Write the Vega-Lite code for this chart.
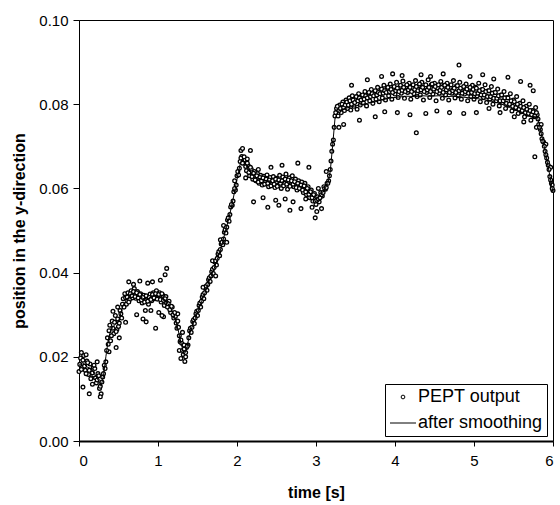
{
  "$schema": "https://vega.github.io/schema/vega-lite/v6.json",
  "width": 474,
  "height": 421,
  "autosize": {"type": "none"},
  "padding": {"left": 79, "top": 20, "right": 7, "bottom": 64},
  "background": "white",
  "config": {
    "view": {"stroke": "black", "strokeWidth": 1},
    "axis": {
      "grid": false,
      "domainColor": "black",
      "tickColor": "black",
      "labelColor": "black",
      "titleColor": "black",
      "labelFont": "Liberation Sans",
      "titleFont": "Liberation Sans",
      "labelFontSize": 15,
      "titleFontSize": 16,
      "titleFontWeight": "bold",
      "tickSize": 5
    },
    "legend": {
      "title": null,
      "orient": "none",
      "legendX": 306,
      "legendY": 364,
      "strokeColor": "black",
      "fillColor": "white",
      "padding": 4,
      "rowPadding": 8,
      "symbolSize": 676,
      "symbolOffset": 5,
      "labelOffset": 6,
      "labelFont": "Liberation Sans",
      "labelFontSize": 18,
      "labelColor": "black"
    }
  },
  "datasets": {
    "pept": [
      {"t":0.00,"y":0.0165},{"t":0.02,"y":0.0197},{"t":0.04,"y":0.0175},{"t":0.06,"y":0.0203},{"t":0.08,"y":0.0168},{"t":0.10,"y":0.0190},{"t":0.12,"y":0.0158},{"t":0.14,"y":0.0183},{"t":0.16,"y":0.0150},{"t":0.18,"y":0.0175},
      {"t":0.20,"y":0.0172},{"t":0.22,"y":0.0138},{"t":0.24,"y":0.0160},{"t":0.26,"y":0.0125},{"t":0.28,"y":0.0112},{"t":0.30,"y":0.0152},{"t":0.32,"y":0.0180},{"t":0.34,"y":0.0188},{"t":0.36,"y":0.0245},{"t":0.38,"y":0.0262},
      {"t":0.40,"y":0.0238},{"t":0.42,"y":0.0285},{"t":0.44,"y":0.0255},{"t":0.46,"y":0.0298},{"t":0.48,"y":0.0265},{"t":0.50,"y":0.0272},{"t":0.52,"y":0.0310},{"t":0.54,"y":0.0292},{"t":0.56,"y":0.0338},{"t":0.58,"y":0.0350},
      {"t":0.60,"y":0.0325},{"t":0.62,"y":0.0352},{"t":0.64,"y":0.0336},{"t":0.66,"y":0.0357},{"t":0.68,"y":0.0340},{"t":0.70,"y":0.0362},{"t":0.72,"y":0.0339},{"t":0.74,"y":0.0355},{"t":0.76,"y":0.0333},{"t":0.78,"y":0.0350},
      {"t":0.80,"y":0.0328},{"t":0.82,"y":0.0346},{"t":0.84,"y":0.0310},{"t":0.86,"y":0.0342},{"t":0.88,"y":0.0325},{"t":0.90,"y":0.0349},{"t":0.92,"y":0.0333},{"t":0.94,"y":0.0352},{"t":0.96,"y":0.0338},{"t":0.98,"y":0.0357},
      {"t":1.00,"y":0.0340},{"t":1.02,"y":0.0352},{"t":1.04,"y":0.0330},{"t":1.06,"y":0.0346},{"t":1.08,"y":0.0322},{"t":1.10,"y":0.0343},{"t":1.12,"y":0.0318},{"t":1.14,"y":0.0332},{"t":1.16,"y":0.0305},{"t":1.18,"y":0.0318},
      {"t":1.20,"y":0.0292},{"t":1.22,"y":0.0296},{"t":1.24,"y":0.0268},{"t":1.26,"y":0.0270},{"t":1.28,"y":0.0236},{"t":1.30,"y":0.0232},{"t":1.32,"y":0.0205},{"t":1.34,"y":0.0189},{"t":1.36,"y":0.0222},{"t":1.38,"y":0.0228},
      {"t":1.40,"y":0.0262},{"t":1.42,"y":0.0258},{"t":1.44,"y":0.0284},{"t":1.46,"y":0.0279},{"t":1.48,"y":0.0302},{"t":1.50,"y":0.0298},{"t":1.52,"y":0.0322},{"t":1.54,"y":0.0318},{"t":1.56,"y":0.0342},{"t":1.58,"y":0.0338},
      {"t":1.60,"y":0.0363},{"t":1.62,"y":0.0358},{"t":1.64,"y":0.0383},{"t":1.66,"y":0.0379},{"t":1.68,"y":0.0402},{"t":1.70,"y":0.0398},{"t":1.72,"y":0.0425},{"t":1.74,"y":0.0418},{"t":1.76,"y":0.0444},{"t":1.78,"y":0.0440},
      {"t":1.80,"y":0.0468},{"t":1.82,"y":0.0466},{"t":1.84,"y":0.0496},{"t":1.86,"y":0.0494},{"t":1.88,"y":0.0525},{"t":1.90,"y":0.0522},{"t":1.92,"y":0.0556},{"t":1.94,"y":0.0560},{"t":1.96,"y":0.0592},{"t":1.98,"y":0.0596},
      {"t":2.00,"y":0.0630},{"t":2.02,"y":0.0632},{"t":2.04,"y":0.0664},{"t":2.06,"y":0.0676},{"t":2.08,"y":0.0662},{"t":2.10,"y":0.0668},{"t":2.12,"y":0.0642},{"t":2.14,"y":0.0655},{"t":2.16,"y":0.0630},{"t":2.18,"y":0.0646},
      {"t":2.20,"y":0.0622},{"t":2.22,"y":0.0640},{"t":2.24,"y":0.0618},{"t":2.26,"y":0.0635},{"t":2.28,"y":0.0612},{"t":2.30,"y":0.0631},{"t":2.32,"y":0.0608},{"t":2.34,"y":0.0629},{"t":2.36,"y":0.0615},{"t":2.38,"y":0.0632},
      {"t":2.40,"y":0.0604},{"t":2.42,"y":0.0626},{"t":2.44,"y":0.0610},{"t":2.46,"y":0.0628},{"t":2.48,"y":0.0602},{"t":2.50,"y":0.0624},{"t":2.52,"y":0.0608},{"t":2.54,"y":0.0631},{"t":2.56,"y":0.0600},{"t":2.58,"y":0.0627},
      {"t":2.60,"y":0.0612},{"t":2.62,"y":0.0634},{"t":2.64,"y":0.0598},{"t":2.66,"y":0.0625},{"t":2.68,"y":0.0609},{"t":2.70,"y":0.0630},{"t":2.72,"y":0.0604},{"t":2.74,"y":0.0622},{"t":2.76,"y":0.0596},{"t":2.78,"y":0.0618},
      {"t":2.80,"y":0.0600},{"t":2.82,"y":0.0615},{"t":2.84,"y":0.0590},{"t":2.86,"y":0.0612},{"t":2.88,"y":0.0585},{"t":2.90,"y":0.0604},{"t":2.92,"y":0.0578},{"t":2.94,"y":0.0596},{"t":2.96,"y":0.0570},{"t":2.98,"y":0.0588},
      {"t":3.00,"y":0.0562},{"t":3.02,"y":0.0580},{"t":3.04,"y":0.0568},{"t":3.06,"y":0.0590},{"t":3.08,"y":0.0582},{"t":3.10,"y":0.0604},{"t":3.12,"y":0.0598},{"t":3.14,"y":0.0612},{"t":3.16,"y":0.0618},{"t":3.18,"y":0.0645},
      {"t":3.20,"y":0.0688},{"t":3.22,"y":0.0715},{"t":3.24,"y":0.0772},{"t":3.26,"y":0.0790},{"t":3.28,"y":0.0772},{"t":3.30,"y":0.0798},{"t":3.32,"y":0.0780},{"t":3.34,"y":0.0805},{"t":3.36,"y":0.0785},{"t":3.38,"y":0.0810},
      {"t":3.40,"y":0.0790},{"t":3.42,"y":0.0815},{"t":3.44,"y":0.0786},{"t":3.46,"y":0.0820},{"t":3.48,"y":0.0795},{"t":3.50,"y":0.0812},{"t":3.52,"y":0.0788},{"t":3.54,"y":0.0825},{"t":3.56,"y":0.0798},{"t":3.58,"y":0.0818},
      {"t":3.60,"y":0.0803},{"t":3.62,"y":0.0830},{"t":3.64,"y":0.0796},{"t":3.66,"y":0.0822},{"t":3.68,"y":0.0808},{"t":3.70,"y":0.0835},{"t":3.72,"y":0.0802},{"t":3.74,"y":0.0826},{"t":3.76,"y":0.0812},{"t":3.78,"y":0.0840},
      {"t":3.80,"y":0.0806},{"t":3.82,"y":0.0832},{"t":3.84,"y":0.0815},{"t":3.86,"y":0.0845},{"t":3.88,"y":0.0810},{"t":3.90,"y":0.0836},{"t":3.92,"y":0.0820},{"t":3.94,"y":0.0848},{"t":3.96,"y":0.0812},{"t":3.98,"y":0.0838},
      {"t":4.00,"y":0.0824},{"t":4.02,"y":0.0852},{"t":4.04,"y":0.0816},{"t":4.06,"y":0.0840},{"t":4.08,"y":0.0826},{"t":4.10,"y":0.0855},{"t":4.12,"y":0.0814},{"t":4.14,"y":0.0842},{"t":4.16,"y":0.0828},{"t":4.18,"y":0.0850},
      {"t":4.20,"y":0.0812},{"t":4.22,"y":0.0838},{"t":4.24,"y":0.0825},{"t":4.26,"y":0.0856},{"t":4.28,"y":0.0818},{"t":4.30,"y":0.0844},{"t":4.32,"y":0.0822},{"t":4.34,"y":0.0852},{"t":4.36,"y":0.0810},{"t":4.38,"y":0.0840},
      {"t":4.40,"y":0.0828},{"t":4.42,"y":0.0858},{"t":4.44,"y":0.0816},{"t":4.46,"y":0.0846},{"t":4.48,"y":0.0824},{"t":4.50,"y":0.0850},{"t":4.52,"y":0.0808},{"t":4.54,"y":0.0838},{"t":4.56,"y":0.0826},{"t":4.58,"y":0.0854},
      {"t":4.60,"y":0.0814},{"t":4.62,"y":0.0845},{"t":4.64,"y":0.0822},{"t":4.66,"y":0.0850},{"t":4.68,"y":0.0810},{"t":4.70,"y":0.0840},{"t":4.72,"y":0.0826},{"t":4.74,"y":0.0856},{"t":4.76,"y":0.0815},{"t":4.78,"y":0.0844},
      {"t":4.80,"y":0.0820},{"t":4.82,"y":0.0852},{"t":4.84,"y":0.0812},{"t":4.86,"y":0.0838},{"t":4.88,"y":0.0824},{"t":4.90,"y":0.0848},{"t":4.92,"y":0.0808},{"t":4.94,"y":0.0836},{"t":4.96,"y":0.0818},{"t":4.98,"y":0.0845},
      {"t":5.00,"y":0.0812},{"t":5.02,"y":0.0840},{"t":5.04,"y":0.0820},{"t":5.06,"y":0.0850},{"t":5.08,"y":0.0806},{"t":5.10,"y":0.0835},{"t":5.12,"y":0.0816},{"t":5.14,"y":0.0846},{"t":5.16,"y":0.0804},{"t":5.18,"y":0.0832},
      {"t":5.20,"y":0.0812},{"t":5.22,"y":0.0842},{"t":5.24,"y":0.0800},{"t":5.26,"y":0.0828},{"t":5.28,"y":0.0808},{"t":5.30,"y":0.0836},{"t":5.32,"y":0.0796},{"t":5.34,"y":0.0822},{"t":5.36,"y":0.0804},{"t":5.38,"y":0.0830},
      {"t":5.40,"y":0.0790},{"t":5.42,"y":0.0816},{"t":5.44,"y":0.0798},{"t":5.46,"y":0.0825},{"t":5.48,"y":0.0784},{"t":5.50,"y":0.0810},{"t":5.52,"y":0.0790},{"t":5.54,"y":0.0818},{"t":5.56,"y":0.0778},{"t":5.58,"y":0.0802},
      {"t":5.60,"y":0.0782},{"t":5.62,"y":0.0808},{"t":5.64,"y":0.0770},{"t":5.66,"y":0.0795},{"t":5.68,"y":0.0776},{"t":5.70,"y":0.0800},{"t":5.72,"y":0.0762},{"t":5.74,"y":0.0785},{"t":5.76,"y":0.0770},{"t":5.78,"y":0.0792},
      {"t":5.80,"y":0.0775},{"t":5.82,"y":0.0752},{"t":5.84,"y":0.0740},{"t":5.86,"y":0.0718},{"t":5.88,"y":0.0710},{"t":5.90,"y":0.0688},{"t":5.92,"y":0.0672},{"t":5.94,"y":0.0655},{"t":5.96,"y":0.0628},{"t":5.98,"y":0.0612},
      {"t":6.00,"y":0.0595},
      {"t":0.05,"y":0.0128},{"t":0.13,"y":0.0112},{"t":0.09,"y":0.0205},{"t":0.17,"y":0.0135},{"t":0.23,"y":0.0188},{"t":0.03,"y":0.0210},{"t":0.27,"y":0.0105},
      {"t":0.43,"y":0.0308},{"t":0.47,"y":0.0222},{"t":0.49,"y":0.0318},{"t":0.51,"y":0.0245},{"t":0.38,"y":0.0212},
      {"t":0.63,"y":0.0378},{"t":0.69,"y":0.0372},{"t":0.73,"y":0.0300},{"t":0.77,"y":0.0380},{"t":0.81,"y":0.0290},{"t":0.85,"y":0.0283},{"t":0.87,"y":0.0375},{"t":0.91,"y":0.0310},{"t":0.93,"y":0.0378},{"t":0.97,"y":0.0268},{"t":1.01,"y":0.0305},{"t":1.03,"y":0.0382},{"t":1.07,"y":0.0295},{"t":1.09,"y":0.0395},{"t":1.11,"y":0.0410},{"t":0.59,"y":0.0282},{"t":1.05,"y":0.0298},
      {"t":1.25,"y":0.0302},{"t":1.31,"y":0.0258},{"t":1.27,"y":0.0215},{"t":1.33,"y":0.0228},{"t":1.35,"y":0.0200},{"t":1.29,"y":0.0196},
      {"t":1.57,"y":0.0365},{"t":1.73,"y":0.0392},{"t":1.79,"y":0.0478},{"t":1.87,"y":0.0472},{"t":1.97,"y":0.0618},{"t":1.83,"y":0.0512},{"t":1.69,"y":0.0428},
      {"t":2.05,"y":0.0690},{"t":2.07,"y":0.0695},{"t":2.13,"y":0.0670},{"t":2.11,"y":0.0625},{"t":2.17,"y":0.0690},{"t":2.21,"y":0.0568},{"t":2.27,"y":0.0645},{"t":2.33,"y":0.0578},{"t":2.39,"y":0.0555},{"t":2.43,"y":0.0650},{"t":2.49,"y":0.0572},{"t":2.53,"y":0.0560},{"t":2.57,"y":0.0655},{"t":2.61,"y":0.0575},{"t":2.67,"y":0.0548},{"t":2.71,"y":0.0568},{"t":2.77,"y":0.0660},{"t":2.81,"y":0.0552},{"t":2.87,"y":0.0575},{"t":2.91,"y":0.0650},{"t":2.95,"y":0.0555},{"t":2.99,"y":0.0530},{"t":3.01,"y":0.0545},{"t":3.03,"y":0.0600},{"t":3.07,"y":0.0552},{"t":3.13,"y":0.0640},
      {"t":3.29,"y":0.0745},{"t":3.35,"y":0.0752},{"t":3.45,"y":0.0845},{"t":3.55,"y":0.0762},{"t":3.65,"y":0.0858},{"t":3.75,"y":0.0770},{"t":3.83,"y":0.0866},{"t":3.87,"y":0.0782},{"t":3.97,"y":0.0872},{"t":4.03,"y":0.0780},{"t":4.09,"y":0.0868},{"t":4.19,"y":0.0775},{"t":4.27,"y":0.0732},{"t":4.33,"y":0.0870},{"t":4.39,"y":0.0778},{"t":4.45,"y":0.0866},{"t":4.53,"y":0.0784},{"t":4.61,"y":0.0872},{"t":4.69,"y":0.0780},{"t":4.81,"y":0.0893},{"t":4.87,"y":0.0778},{"t":4.95,"y":0.0866},{"t":5.03,"y":0.0780},{"t":5.11,"y":0.0870},{"t":5.19,"y":0.0790},{"t":5.25,"y":0.0860},{"t":5.33,"y":0.0780},{"t":5.43,"y":0.0864},{"t":5.51,"y":0.0770},{"t":5.59,"y":0.0854},{"t":5.63,"y":0.0758},{"t":5.71,"y":0.0845},{"t":5.75,"y":0.0832},{"t":5.77,"y":0.0675},{"t":5.79,"y":0.0745},{"t":5.85,"y":0.0752},{"t":5.91,"y":0.0705},{"t":5.97,"y":0.0650},{"t":5.99,"y":0.0608},
      {"t":0.01,"y":0.0182},{"t":0.03,"y":0.0170},{"t":0.05,"y":0.0192},{"t":0.07,"y":0.0178},{"t":0.09,"y":0.0160},{"t":0.11,"y":0.0186},{"t":0.13,"y":0.0168},{"t":0.15,"y":0.0148},{"t":0.17,"y":0.0162},{"t":0.19,"y":0.0180},
      {"t":0.21,"y":0.0150},{"t":0.23,"y":0.0145},{"t":0.25,"y":0.0155},{"t":0.27,"y":0.0130},{"t":0.29,"y":0.0140},{"t":0.31,"y":0.0160},{"t":0.33,"y":0.0172},{"t":0.35,"y":0.0215},{"t":0.37,"y":0.0230},{"t":0.39,"y":0.0275},
      {"t":0.41,"y":0.0250},{"t":0.43,"y":0.0268},{"t":0.45,"y":0.0282},{"t":0.47,"y":0.0260},{"t":0.49,"y":0.0290},{"t":0.51,"y":0.0280},{"t":0.53,"y":0.0302},{"t":0.55,"y":0.0325},{"t":0.57,"y":0.0318},{"t":0.59,"y":0.0340},
      {"t":0.61,"y":0.0342},{"t":0.63,"y":0.0330},{"t":0.65,"y":0.0350},{"t":0.67,"y":0.0345},{"t":0.69,"y":0.0355},{"t":0.71,"y":0.0343},{"t":0.73,"y":0.0352},{"t":0.75,"y":0.0340},{"t":0.77,"y":0.0348},{"t":0.79,"y":0.0335},
      {"t":0.81,"y":0.0341},{"t":0.83,"y":0.0330},{"t":0.85,"y":0.0345},{"t":0.87,"y":0.0332},{"t":0.89,"y":0.0341},{"t":0.91,"y":0.0336},{"t":0.93,"y":0.0348},{"t":0.95,"y":0.0340},{"t":0.97,"y":0.0350},{"t":0.99,"y":0.0337},
      {"t":1.01,"y":0.0348},{"t":1.03,"y":0.0336},{"t":1.05,"y":0.0350},{"t":1.07,"y":0.0334},{"t":1.09,"y":0.0338},{"t":1.11,"y":0.0328},{"t":1.13,"y":0.0326},{"t":1.15,"y":0.0312},{"t":1.17,"y":0.0320},{"t":1.19,"y":0.0300},
      {"t":1.21,"y":0.0305},{"t":1.23,"y":0.0280},{"t":1.25,"y":0.0285},{"t":1.27,"y":0.0250},{"t":1.29,"y":0.0240},{"t":1.31,"y":0.0215},{"t":1.33,"y":0.0218},{"t":1.35,"y":0.0210},{"t":1.37,"y":0.0225},{"t":1.39,"y":0.0245},
      {"t":1.41,"y":0.0268},{"t":1.43,"y":0.0270},{"t":1.45,"y":0.0288},{"t":1.47,"y":0.0292},{"t":1.49,"y":0.0308},{"t":1.51,"y":0.0310},{"t":1.53,"y":0.0328},{"t":1.55,"y":0.0332},{"t":1.57,"y":0.0348},{"t":1.59,"y":0.0352},
      {"t":1.61,"y":0.0368},{"t":1.63,"y":0.0372},{"t":1.65,"y":0.0388},{"t":1.67,"y":0.0392},{"t":1.69,"y":0.0408},{"t":1.71,"y":0.0412},{"t":1.73,"y":0.0428},{"t":1.75,"y":0.0434},{"t":1.77,"y":0.0450},{"t":1.79,"y":0.0455},
      {"t":1.81,"y":0.0472},{"t":1.83,"y":0.0480},{"t":1.85,"y":0.0502},{"t":1.87,"y":0.0508},{"t":1.89,"y":0.0530},{"t":1.91,"y":0.0538},{"t":1.93,"y":0.0562},{"t":1.95,"y":0.0570},{"t":1.97,"y":0.0600},{"t":1.99,"y":0.0608},
      {"t":2.01,"y":0.0640},{"t":2.03,"y":0.0648},{"t":2.05,"y":0.0672},{"t":2.07,"y":0.0660},{"t":2.09,"y":0.0675},{"t":2.11,"y":0.0652},{"t":2.13,"y":0.0660},{"t":2.15,"y":0.0638},{"t":2.17,"y":0.0650},{"t":2.19,"y":0.0628},
      {"t":2.21,"y":0.0636},{"t":2.23,"y":0.0620},{"t":2.25,"y":0.0630},{"t":2.27,"y":0.0615},{"t":2.29,"y":0.0626},{"t":2.31,"y":0.0618},{"t":2.33,"y":0.0625},{"t":2.35,"y":0.0610},{"t":2.37,"y":0.0622},{"t":2.39,"y":0.0612},
      {"t":2.41,"y":0.0620},{"t":2.43,"y":0.0606},{"t":2.45,"y":0.0618},{"t":2.47,"y":0.0610},{"t":2.49,"y":0.0622},{"t":2.51,"y":0.0605},{"t":2.53,"y":0.0620},{"t":2.55,"y":0.0612},{"t":2.57,"y":0.0618},{"t":2.59,"y":0.0606},
      {"t":2.61,"y":0.0622},{"t":2.63,"y":0.0610},{"t":2.65,"y":0.0620},{"t":2.67,"y":0.0605},{"t":2.69,"y":0.0618},{"t":2.71,"y":0.0610},{"t":2.73,"y":0.0616},{"t":2.75,"y":0.0602},{"t":2.77,"y":0.0612},{"t":2.79,"y":0.0600},
      {"t":2.81,"y":0.0608},{"t":2.83,"y":0.0596},{"t":2.85,"y":0.0606},{"t":2.87,"y":0.0592},{"t":2.89,"y":0.0600},{"t":2.91,"y":0.0586},{"t":2.93,"y":0.0592},{"t":2.95,"y":0.0578},{"t":2.97,"y":0.0585},{"t":2.99,"y":0.0570},
      {"t":3.01,"y":0.0572},{"t":3.03,"y":0.0575},{"t":3.05,"y":0.0578},{"t":3.07,"y":0.0585},{"t":3.09,"y":0.0590},{"t":3.11,"y":0.0600},{"t":3.13,"y":0.0602},{"t":3.15,"y":0.0612},{"t":3.17,"y":0.0630},{"t":3.19,"y":0.0665},
      {"t":3.21,"y":0.0705},{"t":3.23,"y":0.0745},{"t":3.25,"y":0.0780},{"t":3.27,"y":0.0795},{"t":3.29,"y":0.0785},{"t":3.31,"y":0.0790},{"t":3.33,"y":0.0800},{"t":3.35,"y":0.0792},{"t":3.37,"y":0.0798},{"t":3.39,"y":0.0805},
      {"t":3.41,"y":0.0798},{"t":3.43,"y":0.0808},{"t":3.45,"y":0.0800},{"t":3.47,"y":0.0810},{"t":3.49,"y":0.0804},{"t":3.51,"y":0.0818},{"t":3.53,"y":0.0808},{"t":3.55,"y":0.0815},{"t":3.57,"y":0.0810},{"t":3.59,"y":0.0822},
      {"t":3.61,"y":0.0812},{"t":3.63,"y":0.0820},{"t":3.65,"y":0.0815},{"t":3.67,"y":0.0828},{"t":3.69,"y":0.0818},{"t":3.71,"y":0.0825},{"t":3.73,"y":0.0820},{"t":3.75,"y":0.0832},{"t":3.77,"y":0.0822},{"t":3.79,"y":0.0828},
      {"t":3.81,"y":0.0825},{"t":3.83,"y":0.0836},{"t":3.85,"y":0.0826},{"t":3.87,"y":0.0832},{"t":3.89,"y":0.0828},{"t":3.91,"y":0.0840},{"t":3.93,"y":0.0830},{"t":3.95,"y":0.0835},{"t":3.97,"y":0.0828},{"t":3.99,"y":0.0842},
      {"t":4.01,"y":0.0832},{"t":4.03,"y":0.0838},{"t":4.05,"y":0.0830},{"t":4.07,"y":0.0845},{"t":4.09,"y":0.0833},{"t":4.11,"y":0.0840},{"t":4.13,"y":0.0830},{"t":4.15,"y":0.0846},{"t":4.17,"y":0.0834},{"t":4.19,"y":0.0840},
      {"t":4.21,"y":0.0830},{"t":4.23,"y":0.0846},{"t":4.25,"y":0.0835},{"t":4.27,"y":0.0842},{"t":4.29,"y":0.0832},{"t":4.31,"y":0.0848},{"t":4.33,"y":0.0834},{"t":4.35,"y":0.0840},{"t":4.37,"y":0.0830},{"t":4.39,"y":0.0846},
      {"t":4.41,"y":0.0834},{"t":4.43,"y":0.0840},{"t":4.45,"y":0.0830},{"t":4.47,"y":0.0848},{"t":4.49,"y":0.0836},{"t":4.51,"y":0.0842},{"t":4.53,"y":0.0830},{"t":4.55,"y":0.0846},{"t":4.57,"y":0.0833},{"t":4.59,"y":0.0840},
      {"t":4.61,"y":0.0828},{"t":4.63,"y":0.0845},{"t":4.65,"y":0.0834},{"t":4.67,"y":0.0840},{"t":4.69,"y":0.0828},{"t":4.71,"y":0.0846},{"t":4.73,"y":0.0832},{"t":4.75,"y":0.0838},{"t":4.77,"y":0.0828},{"t":4.79,"y":0.0844},
      {"t":4.81,"y":0.0832},{"t":4.83,"y":0.0838},{"t":4.85,"y":0.0826},{"t":4.87,"y":0.0842},{"t":4.89,"y":0.0830},{"t":4.91,"y":0.0836},{"t":4.93,"y":0.0826},{"t":4.95,"y":0.0840},{"t":4.97,"y":0.0828},{"t":4.99,"y":0.0835},
      {"t":5.01,"y":0.0825},{"t":5.03,"y":0.0838},{"t":5.05,"y":0.0826},{"t":5.07,"y":0.0832},{"t":5.09,"y":0.0822},{"t":5.11,"y":0.0835},{"t":5.13,"y":0.0822},{"t":5.15,"y":0.0830},{"t":5.17,"y":0.0818},{"t":5.19,"y":0.0832},
      {"t":5.21,"y":0.0818},{"t":5.23,"y":0.0826},{"t":5.25,"y":0.0814},{"t":5.27,"y":0.0828},{"t":5.29,"y":0.0814},{"t":5.31,"y":0.0820},{"t":5.33,"y":0.0808},{"t":5.35,"y":0.0822},{"t":5.37,"y":0.0808},{"t":5.39,"y":0.0815},
      {"t":5.41,"y":0.0802},{"t":5.43,"y":0.0815},{"t":5.45,"y":0.0800},{"t":5.47,"y":0.0808},{"t":5.49,"y":0.0795},{"t":5.51,"y":0.0806},{"t":5.53,"y":0.0792},{"t":5.55,"y":0.0800},{"t":5.57,"y":0.0788},{"t":5.59,"y":0.0795},
      {"t":5.61,"y":0.0785},{"t":5.63,"y":0.0792},{"t":5.65,"y":0.0780},{"t":5.67,"y":0.0788},{"t":5.69,"y":0.0778},{"t":5.71,"y":0.0785},{"t":5.73,"y":0.0775},{"t":5.75,"y":0.0782},{"t":5.77,"y":0.0772},{"t":5.79,"y":0.0780},
      {"t":5.81,"y":0.0765},{"t":5.83,"y":0.0745},{"t":5.85,"y":0.0730},{"t":5.87,"y":0.0712},{"t":5.89,"y":0.0700},{"t":5.91,"y":0.0680},{"t":5.93,"y":0.0662},{"t":5.95,"y":0.0645},{"t":5.97,"y":0.0620},{"t":5.99,"y":0.0600}
    ],
    "smooth": [
      {"t":0.00,"y":0.0180},{"t":0.05,"y":0.0186},{"t":0.10,"y":0.0176},{"t":0.15,"y":0.0172},{"t":0.20,"y":0.0158},{"t":0.25,"y":0.0142},{"t":0.28,"y":0.0130},{"t":0.31,"y":0.0155},{"t":0.34,"y":0.0200},{"t":0.37,"y":0.0240},
      {"t":0.40,"y":0.0262},{"t":0.45,"y":0.0276},{"t":0.50,"y":0.0283},{"t":0.55,"y":0.0318},{"t":0.60,"y":0.0336},{"t":0.65,"y":0.0346},{"t":0.70,"y":0.0351},{"t":0.75,"y":0.0344},{"t":0.80,"y":0.0340},{"t":0.85,"y":0.0334},
      {"t":0.90,"y":0.0341},{"t":0.95,"y":0.0346},{"t":1.00,"y":0.0344},{"t":1.05,"y":0.0341},{"t":1.10,"y":0.0334},{"t":1.15,"y":0.0319},{"t":1.20,"y":0.0301},{"t":1.25,"y":0.0268},{"t":1.30,"y":0.0226},{"t":1.33,"y":0.0206},
      {"t":1.36,"y":0.0216},{"t":1.40,"y":0.0254},{"t":1.45,"y":0.0281},{"t":1.50,"y":0.0304},{"t":1.55,"y":0.0331},{"t":1.60,"y":0.0354},{"t":1.65,"y":0.0381},{"t":1.70,"y":0.0404},{"t":1.75,"y":0.0431},{"t":1.80,"y":0.0459},
      {"t":1.85,"y":0.0496},{"t":1.90,"y":0.0531},{"t":1.95,"y":0.0574},{"t":2.00,"y":0.0621},{"t":2.04,"y":0.0658},{"t":2.07,"y":0.0671},{"t":2.10,"y":0.0660},{"t":2.15,"y":0.0642},{"t":2.20,"y":0.0633},{"t":2.25,"y":0.0625},
      {"t":2.30,"y":0.0623},{"t":2.35,"y":0.0619},{"t":2.40,"y":0.0619},{"t":2.45,"y":0.0614},{"t":2.50,"y":0.0616},{"t":2.55,"y":0.0614},{"t":2.60,"y":0.0617},{"t":2.65,"y":0.0612},{"t":2.70,"y":0.0614},{"t":2.75,"y":0.0609},
      {"t":2.80,"y":0.0605},{"t":2.85,"y":0.0600},{"t":2.90,"y":0.0594},{"t":2.95,"y":0.0584},{"t":3.00,"y":0.0575},{"t":3.05,"y":0.0581},{"t":3.10,"y":0.0594},{"t":3.15,"y":0.0612},{"t":3.18,"y":0.0640},{"t":3.21,"y":0.0700},
      {"t":3.24,"y":0.0765},{"t":3.28,"y":0.0783},{"t":3.35,"y":0.0789},{"t":3.45,"y":0.0794},{"t":3.55,"y":0.0798},{"t":3.65,"y":0.0802},{"t":3.75,"y":0.0806},{"t":3.85,"y":0.0811},{"t":3.95,"y":0.0815},{"t":4.05,"y":0.0817},
      {"t":4.15,"y":0.0819},{"t":4.25,"y":0.0818},{"t":4.35,"y":0.0820},{"t":4.45,"y":0.0819},{"t":4.55,"y":0.0820},{"t":4.65,"y":0.0818},{"t":4.75,"y":0.0819},{"t":4.85,"y":0.0817},{"t":4.95,"y":0.0815},{"t":5.05,"y":0.0813},
      {"t":5.15,"y":0.0810},{"t":5.25,"y":0.0806},{"t":5.35,"y":0.0800},{"t":5.45,"y":0.0792},{"t":5.55,"y":0.0784},{"t":5.65,"y":0.0775},{"t":5.72,"y":0.0770},{"t":5.80,"y":0.0772},{"t":5.83,"y":0.0750},{"t":5.86,"y":0.0722},
      {"t":5.90,"y":0.0690},{"t":5.95,"y":0.0640},{"t":6.00,"y":0.0590}
    ]
  },
  "encoding": {
    "x": {
      "field": "t", "type": "quantitative",
      "scale": {"domain": [0, 6], "nice": false, "zero": false},
      "axis": {"title": "time [s]", "values": [0,1,2,3,4,5,6], "format": "d", "domainWidth": 2, "labelPadding": 7, "titlePadding": 16}
    },
    "y": {
      "field": "y", "type": "quantitative",
      "scale": {"domain": [0, 0.1], "nice": false},
      "axis": {"title": "position in the y-direction", "values": [0,0.02,0.04,0.06,0.08,0.1], "format": ".2f", "tickSize": 6, "labelPadding": 5, "titlePadding": 11}
    }
  },
  "layer": [
    {
      "data": {"name": "pept"},
      "mark": {"type": "point", "filled": true, "fill": "white", "size": 14, "strokeWidth": 1.3, "opacity": 1, "strokeOpacity": 1, "fillOpacity": 1},
      "encoding": {
        "stroke": {
          "datum": "PEPT output",
          "type": "nominal",
          "scale": {"domain": ["PEPT output", "after smoothing"], "range": ["black", "black"]},
          "legend": {
            "encode": {
              "symbols": {
                "update": {
                  "shape": {"signal": "datum.value === 'after smoothing' ? 'stroke' : 'circle'"},
                  "size": {"signal": "datum.value === 'after smoothing' ? 676 : 14"},
                  "fill": {"signal": "datum.value === 'after smoothing' ? 'transparent' : 'white'"},
                  "stroke": {"value": "black"},
                  "strokeWidth": {"value": 1},
                  "opacity": {"value": 1}
                }
              }
            }
          }
        }
      }
    },
    {
      "data": {"name": "smooth"},
      "mark": {"type": "line", "strokeWidth": 1},
      "encoding": {
        "stroke": {
          "datum": "after smoothing",
          "type": "nominal",
          "legend": {
            "encode": {
              "symbols": {
                "update": {
                  "shape": {"signal": "datum.value === 'after smoothing' ? 'stroke' : 'circle'"},
                  "size": {"signal": "datum.value === 'after smoothing' ? 676 : 14"},
                  "fill": {"signal": "datum.value === 'after smoothing' ? 'transparent' : 'white'"},
                  "stroke": {"value": "black"},
                  "strokeWidth": {"value": 1},
                  "opacity": {"value": 1}
                }
              }
            }
          }
        }
      }
    }
  ]
}
